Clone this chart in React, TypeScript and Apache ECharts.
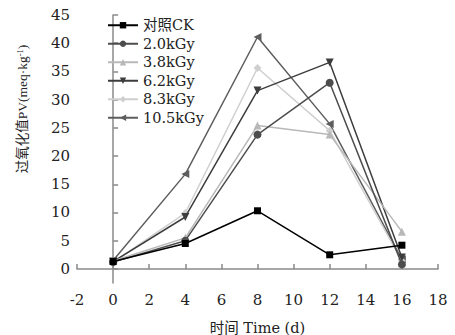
import React, { useEffect, useRef } from "react";
import * as echarts from "echarts";

const days = [0, 4, 8, 12, 16];
const seriesNames = ["对照CK", "2.0kGy", "3.8kGy", "6.2kGy", "8.3kGy", "10.5kGy"];
const ck = [1.3, 4.5, 10.3, 2.5, 4.2];
const kgy20 = [1.2, 5.0, 23.8, 33.0, 0.8];
const kgy38 = [1.4, 5.5, 25.4, 23.8, 6.6];
const kgy62 = [1.3, 9.2, 31.6, 36.6, 2.0];
const kgy83 = [1.2, 9.9, 35.6, 24.5, 1.4];
const kgy105 = [1.5, 16.8, 41.1, 25.7, 1.7];
const yTicks = [0, 5, 10, 15, 20, 25, 30, 35, 40, 45];
const yName = "过氧化值PV(meq·kg{sup|-1})";
const xName = "时间 Time (d)";

const colors = ["#000000", "#4d4d4d", "#b8b8b8", "#3d3d3d", "#cfcfcf", "#5e5e5e"];
const symbols = ["rect", "circle", "triangle", "triangle", "diamond", "triangle"];
const rotates = [0, 0, 0, 180, 0, 90];
const values = [ck, kgy20, kgy38, kgy62, kgy83, kgy105];

const WIDE = "'DejaVu Serif', 'Noto Sans CJK SC', serif";
const NARROW = "'Liberation Serif', 'Noto Sans CJK SC', serif";

export default function App() {
  const ref = useRef<HTMLDivElement>(null);
  useEffect(() => {
    if (!ref.current) return;
    const chart = echarts.init(ref.current, null, { renderer: "svg" });
    chart.setOption({
      animation: false,
      backgroundColor: "#ffffff",
      textStyle: { fontFamily: WIDE },
      grid: { left: 77, right: 17, top: 15, bottom: 52, containLabel: false, outerBoundsMode: "none" },
      legend: {
        orient: "vertical",
        left: 102,
        top: 13,
        itemWidth: 30,
        itemHeight: 8,
        itemGap: 4,
        textStyle: { fontFamily: WIDE, fontSize: 14.5, color: "#222" },
        data: seriesNames,
      },
      graphic: [
        {
          type: "text",
          x: 22,
          y: 109,
          rotation: Math.PI / 2,
          style: {
            text: yName,
            font: "13.5px " + NARROW,
            fill: "#222",
            align: "center",
            verticalAlign: "middle",
            rich: {
              sup: { fontFamily: NARROW, fontSize: 8.5, verticalAlign: "top", fill: "#222" },
            },
          },
        },
      ],
      xAxis: {
        type: "value",
        min: -2,
        max: 18,
        interval: 2,
        name: xName,
        nameLocation: "middle",
        nameGap: 38,
        nameTextStyle: { fontFamily: WIDE, fontSize: 14.5, color: "#222" },
        axisLine: { show: true, lineStyle: { color: "#8a8a8a", width: 1.5 } },
        axisTick: { show: true, inside: true, length: 5, lineStyle: { color: "#8a8a8a", width: 1.5 } },
        axisLabel: { fontFamily: WIDE, fontSize: 15, color: "#222", margin: 9 },
        splitLine: { show: false },
      },
      yAxis: {
        type: "value",
        min: -2.5,
        max: 45,
        axisLine: { show: true, lineStyle: { color: "#8a8a8a", width: 1.5 } },
        axisTick: {
          show: true,
          inside: true,
          length: 5,
          customValues: yTicks,
          lineStyle: { color: "#8a8a8a", width: 1.5 },
        },
        axisLabel: { fontFamily: WIDE, fontSize: 15, color: "#222", margin: 7, customValues: yTicks },
        splitLine: { show: false },
      },
      series: seriesNames.map((n, i) => ({
        name: n,
        type: "line",
        data: days.map((d, j) => [d, values[i][j]]),
        symbol: symbols[i],
        symbolRotate: rotates[i],
        symbolSize: i === 0 ? 7 : 8,
        color: colors[i],
        lineStyle: { color: colors[i], width: 1.5 },
        itemStyle: { color: colors[i] },
        z: 10 - i,
      })),
    });
    return () => chart.dispose();
  }, []);
  return (
    <div
      ref={ref}
      style={{ position: "absolute", left: 0, top: 0, width: 455, height: 335 }}
    />
  );
}
